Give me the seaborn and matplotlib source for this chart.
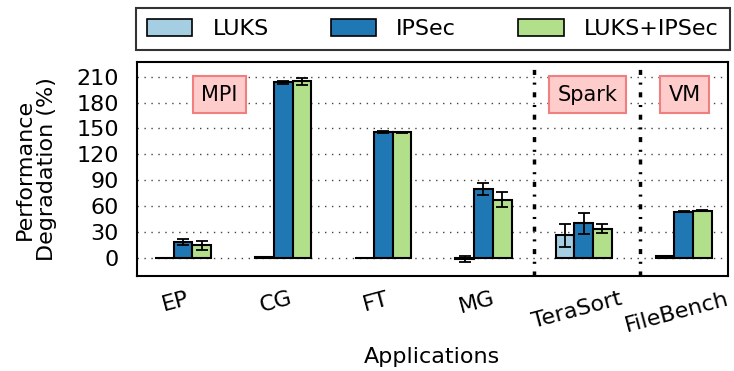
import matplotlib
matplotlib.use("Agg")
import matplotlib.pyplot as plt
import matplotlib.transforms as mtransforms
import seaborn as sns
import pandas as pd
import numpy as np

# Benchmark applications and encryption configurations
apps = ["EP", "CG", "FT", "MG", "TeraSort", "FileBench"]
configs = ["LUKS", "IPSec", "LUKS+IPSec"]

# Mean performance degradation (%) per configuration
luks = [0.3, 1.5, 0.3, -1.0, 26.0, 2.5]
ipsec = [18.5, 203.5, 146.0, 79.5, 40.0, 53.7]
luks_ipsec = [14.5, 204.5, 145.5, 67.5, 34.0, 54.5]

# Error bar half-widths
luks_err = [0.0, 0.0, 0.0, 3.5, 13.0, 0.0]
ipsec_err = [3.5, 1.5, 1.0, 7.0, 12.0, 0.5]
luks_ipsec_err = [5.0, 4.0, 0.8, 9.0, 5.5, 0.5]

colors = ["#a6cee3", "#1f78b4", "#b2df8a"]
FS = 16

df = pd.DataFrame({
    "Application": apps * 3,
    "Config": sum([[c] * len(apps) for c in configs], []),
    "Degradation": luks + ipsec + luks_ipsec,
})
errs = [luks_err, ipsec_err, luks_ipsec_err]

sns.set_theme(style="white")
plt.rcParams["font.family"] = ["DejaVu Sans"]
plt.rcParams["text.color"] = "black"
plt.rcParams["axes.labelcolor"] = "black"

fig = plt.figure(figsize=(7.34, 3.71), dpi=100)
ax = fig.add_axes([0.1866, 0.256, 0.805, 0.577])

sns.barplot(data=df, x="Application", y="Degradation", hue="Config",
            order=apps, hue_order=configs, palette=colors, width=0.56,
            errorbar=None, edgecolor="black", linewidth=1.5, ax=ax,
            legend=False, saturation=1)

for cont, err in zip(ax.containers, errs):
    xs = [p.get_x() + p.get_width() / 2 for p in cont.patches]
    ys = [p.get_height() + p.get_y() for p in cont.patches]
    xe, ye, ee = [], [], []
    for x, y, e in zip(xs, ys, err):
        if e > 0:
            xe.append(x); ye.append(y); ee.append(e)
    ax.errorbar(xe, ye, yerr=ee, fmt="none", ecolor="black",
                elinewidth=1.3, capsize=4.3, capthick=1.3, zorder=5)

ax.set_ylim(-21, 227)
ax.set_xlim(-0.46, 5.44)
ax.set_yticks(np.arange(0, 211, 30))
ax.yaxis.grid(True, linestyle=(0, (1, 4)), color="#444444", linewidth=1)
ax.set_axisbelow(True)
ax.tick_params(axis="both", length=0, labelsize=FS, colors="black")
ax.tick_params(axis="y", pad=13)
ax.tick_params(axis="x", pad=9)
shift = mtransforms.ScaledTranslation(-0.07, 0, fig.dpi_scale_trans)
for lbl in ax.get_xticklabels():
    lbl.set_rotation(15)
    lbl.set_transform(lbl.get_transform() + shift)
ax.set_xlabel("Applications", fontsize=FS, labelpad=8, color="black")
ax.set_ylabel("Performance\nDegradation (%)", fontsize=FS, labelpad=14,
              linespacing=1.15, color="black")
for s in ax.spines.values():
    s.set_color("black")
    s.set_linewidth(1.5)

# Separators between workload families
for xv in [3.5, 4.56]:
    ax.axvline(xv, color="black", linewidth=2.5,
               linestyle=(0, (1.45, 2.2, 0.6, 2.2)), zorder=1)

box = dict(boxstyle="square,pad=0.4", facecolor="#ffcccc",
           edgecolor="#f08080", linewidth=1.5)
for xv, txt in [(0.36, "MPI"), (4.04, "Spark"), (5.01, "VM")]:
    ax.text(xv, 189, txt, fontsize=15, ha="center", va="center", bbox=box,
            color="black")

handles = [plt.Rectangle((0, 0), 1, 1, facecolor=c, edgecolor="black",
                         linewidth=1.2) for c in colors]
leg = ax.legend(handles, configs, loc="lower left", ncol=3, mode="expand",
                bbox_to_anchor=(-0.002, 1.056, 1.005, 0.0), fontsize=FS,
                frameon=True, fancybox=False, handlelength=2.05,
                handleheight=0.8, handletextpad=0.9, borderaxespad=0,
                borderpad=0.5, columnspacing=1.0, labelcolor="black")
leg.get_frame().set_edgecolor("black")
leg.get_frame().set_linewidth(1.5)

fig.savefig("out.png", dpi=100)
